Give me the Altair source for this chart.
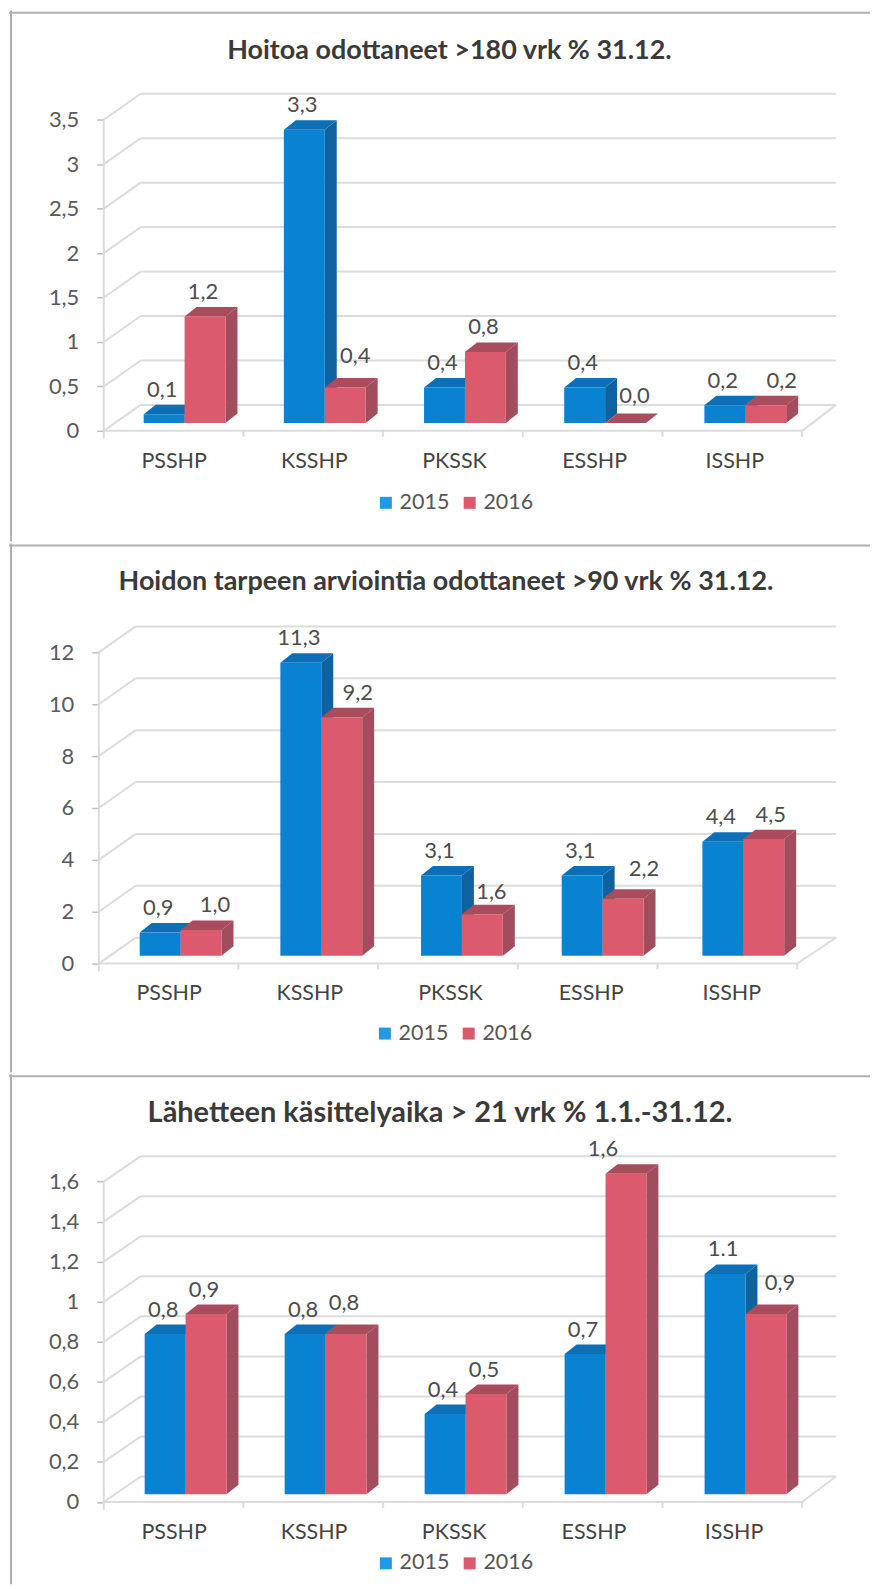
import json
import altair as alt
import pandas as pd

categories = ["PSSHP", "KSSHP", "PKSSK", "ESSHP", "ISSHP"]
years = ["2015", "2016"]

title_1 = "Hoitoa odottaneet >180 vrk % 31.12."
values_1_2015 = [0.1, 3.3, 0.4, 0.4, 0.2]
values_1_2016 = [1.2, 0.4, 0.8, 0.0, 0.2]
labels_1_2015 = ["0,1", "3,3", "0,4", "0,4", "0,2"]
labels_1_2016 = ["1,2", "0,4", "0,8", "0,0", "0,2"]
ticks_1 = [0, 0.5, 1, 1.5, 2, 2.5, 3, 3.5]

title_2 = "Hoidon tarpeen arviointia odottaneet >90 vrk % 31.12."
values_2_2015 = [0.9, 11.3, 3.1, 3.1, 4.4]
values_2_2016 = [1.0, 9.2, 1.6, 2.2, 4.5]
labels_2_2015 = ["0,9", "11,3", "3,1", "3,1", "4,4"]
labels_2_2016 = ["1,0", "9,2", "1,6", "2,2", "4,5"]
ticks_2 = [0, 2, 4, 6, 8, 10, 12]

title_3 = "Lähetteen käsittelyaika > 21 vrk % 1.1.-31.12."
values_3_2015 = [0.8, 0.8, 0.4, 0.7, 1.1]
values_3_2016 = [0.9, 0.8, 0.5, 1.6, 0.9]
labels_3_2015 = ["0,8", "0,8", "0,4", "0,7", "1.1"]
labels_3_2016 = ["0,9", "0,8", "0,5", "1,6", "0,9"]
ticks_3 = [0, 0.2, 0.4, 0.6, 0.8, 1, 1.2, 1.4, 1.6]

# label nudges in pixels (dx, dy) for hand-moved data labels
nudge_1 = {(1, 1): (12, -7), (3, 1): (11, -3), (4, 1): (18, 0)}
nudge_2 = {(0, 1): (16, 0), (1, 1): (18, 0), (2, 1): (11, 2), (3, 1): (23, -5), (4, 1): (9, 0)}
nudge_3 = {(1, 1): (0, -7), (3, 1): (-21, 0), (4, 1): (16, -7)}

BLUE = ("#0a82d2", "#0e629f", "#0d6fb5")
RED = ("#dc5a6e", "#a14d5e", "#a94c5c")
GRID = "#dcdcdc"
FONT = "Lato"
WIDTH = 863


def panel(title, v15, v16, l15, l16, ticks, nudge, top, bottom, ax, y0, k, bar0, step,
          title_x, title_y, title_size, cat_pad, leg_x, leg_y, back_dy=26):
    bw, dx, dy, base_px, back_dx, front_end, back_end = 41, 12, 9.5, 7.8, 37, ax + 700, 837

    def ux(px):
        return (px - bar0) / step

    def vy(px):
        return (y0 - px) / k

    xs = alt.Scale(domain=[ux(8), ux(8 + WIDTH)], nice=False, zero=False)
    ys = alt.Scale(domain=[vy(bottom), vy(top)], nice=False, zero=False)
    ubw, udx, vdy, vbase = bw / step, dx / step, dy / k, base_px / k

    # pseudo-3D bar faces, all positioned from the data values through the scales
    faces = []
    fid = 0

    def add(points, color):
        nonlocal fid
        fid += 1
        for x, y, y2 in points:
            faces.append({"x": x, "y": y, "y2": y2, "c": color, "f": f"f{fid:03d}"})

    for i in range(5):
        for j, (val, col) in enumerate(((v15[i], BLUE), (v16[i], RED))):
            x0 = i + j * ubw
            x1 = x0 + ubw
            vt = val + vbase
            add([(x1, vt, vbase), (x1 + udx, vt + vdy, vbase + vdy)], col[1])
            add([(x0, vt, vt), (x0 + udx, vt + vdy, vt), (x1, vt + vdy, vt),
                 (x1 + udx, vt + vdy, vt + vdy)], col[2])
            add([(x0, vt, vbase), (x1, vt, vbase)], col[0])
    faces = pd.DataFrame(faces)

    # wall and floor lines
    bdy = back_dy / k
    ax_u, bx_u, fe_u, be_u = ux(ax), ux(ax + back_dx), ux(front_end), ux(back_end)
    lines = []
    for t in ticks:
        lines.append({"x": bx_u, "x2": be_u, "y": t + bdy, "y2": t + bdy})
        lines.append({"x": ax_u, "x2": bx_u, "y": t, "y2": t + bdy})
    lines.append({"x": ax_u, "x2": fe_u, "y": 0, "y2": 0})
    lines.append({"x": fe_u, "x2": be_u, "y": 0, "y2": bdy})
    lines.append({"x": ax_u, "x2": ax_u, "y": vy(y0 + 8), "y2": ticks[-1]})
    for n in range(1, 6):
        lines.append({"x": ux(ax + 140 * n), "x2": ux(ax + 140 * n), "y": 0, "y2": vy(y0 + 6)})
    lines = pd.DataFrame(lines)

    frame = pd.DataFrame([
        {"x": ux(8), "x2": ux(8 + WIDTH), "y": vy(top + 2), "y2": vy(top + 2)},
        {"x": ux(10), "x2": ux(10), "y": vy(top), "y2": vy(bottom)},
    ])

    labels = []
    for i in range(5):
        for j, (val, txt) in enumerate(((v15[i], l15[i]), (v16[i], l16[i]))):
            ndx, ndy = nudge.get((i, j), (0, 0))
            labels.append({"x": i + j * ubw + ubw / 2 + (ndx - 2) / step,
                           "y": val + vbase + vdy + (15 - ndy) / k, "t": txt})
    labels = pd.DataFrame(labels)

    lo = (ax + 70 - bar0) / step
    cat_values = [i + lo for i in range(5)]
    cat_expr = f"{json.dumps(categories)}[round(datum.value - {lo})]"

    x_axis = alt.Axis(values=cat_values, labelExpr=cat_expr, title=None, domain=False, ticks=False,
                      grid=False, offset=-(bottom - y0), labelPadding=cat_pad, labelFont=FONT,
                      labelFontSize=21.5, labelColor="#444444", labelFlush=False, labelOverlap=False)
    y_axis = alt.Axis(values=ticks, labelExpr="replace(toString(datum.value), '.', ',')", title=None,
                      domain=False, grid=False, offset=-(ax - 8), tickSize=7, tickColor="#bdbdbd",
                      tickWidth=1.5, labelPadding=18, labelFont=FONT, labelFontSize=22,
                      labelColor="#5a5a5a")

    grid = alt.Chart(lines).mark_rule(color=GRID, strokeWidth=2).encode(
        x=alt.X("x:Q", scale=xs, axis=x_axis), x2="x2:Q",
        y=alt.Y("y:Q", scale=ys, axis=y_axis), y2="y2:Q")
    border = alt.Chart(frame).mark_rule(color="#b0b0b0", strokeWidth=2).encode(
        x=alt.X("x:Q", scale=xs), x2="x2:Q",
        y=alt.Y("y:Q", scale=ys), y2="y2:Q")
    bars = alt.Chart(faces).mark_area(interpolate="linear").encode(
        x=alt.X("x:Q", scale=xs),
        y=alt.Y("y:Q", scale=ys, stack=None), y2="y2:Q",
        fill=alt.Fill("c:N", scale=None), detail="f:N")
    texts = alt.Chart(labels).mark_text(font=FONT, fontSize=22, color="#4d4d4d").encode(
        x=alt.X("x:Q", scale=xs), y=alt.Y("y:Q", scale=ys), text="t:N")
    head = alt.Chart(pd.DataFrame([{"x": ux(title_x), "y": vy(title_y), "t": title}])).mark_text(
        font=FONT, fontSize=title_size, fontWeight="bold", color="#3a3a3a").encode(
        x=alt.X("x:Q", scale=xs), y=alt.Y("y:Q", scale=ys), text="t:N")
    legend = alt.Chart(pd.DataFrame({"year": years, "x": [0, 0], "y": [0, 0]})).mark_square(size=0).encode(
        x=alt.X("x:Q", scale=xs), y=alt.Y("y:Q", scale=ys),
        color=alt.Color("year:N", scale=alt.Scale(domain=years, range=["#1f9ae6", "#d9596d"]),
                        legend=alt.Legend(orient="none", legendX=leg_x - 8, legendY=leg_y - top,
                                          direction="horizontal", title=None, symbolType="square",
                                          symbolSize=144, symbolStrokeWidth=0, symbolOpacity=1,
                                          labelFont=FONT, labelFontSize=21.5, labelColor="#555555",
                                          labelOffset=3, columnPadding=9, padding=0)))
    # the axes are declared on the first layer; others share them
    return alt.layer(grid, border, bars, texts, head, legend).properties(
        width=WIDTH, height=bottom - top)


p1 = panel(title_1, values_1_2015, values_1_2016, labels_1_2015, labels_1_2016, ticks_1, nudge_1,
           8, 540, 103, 429, 89.1, 143, 140.5, 449.5, 48, 27, 20, 375, 490)
p2 = panel(title_2, values_2_2015, values_2_2016, labels_2_2015, labels_2_2016, ticks_2, nudge_2,
           540, 1070, 98, 961, 26.0, 139, 141, 446, 579, 27, 19, 374, 1020)
p3 = panel(title_3, values_3_2015, values_3_2016, labels_3_2015, labels_3_2016, ticks_3, nudge_3,
           1070, 1581, 103, 1498.6, 200.7, 144, 140.3, 440, 1109, 29, 20, 375, 1549, back_dy=25.5)

chart = (alt.vconcat(p1, p2, p3, spacing=0)
         .resolve_scale(color="independent")
         .resolve_legend(color="independent")
         .properties(padding=0)
         .configure_view(stroke=None))
chart.save("out.html", embed_options={"renderer": "svg", "actions": False})
